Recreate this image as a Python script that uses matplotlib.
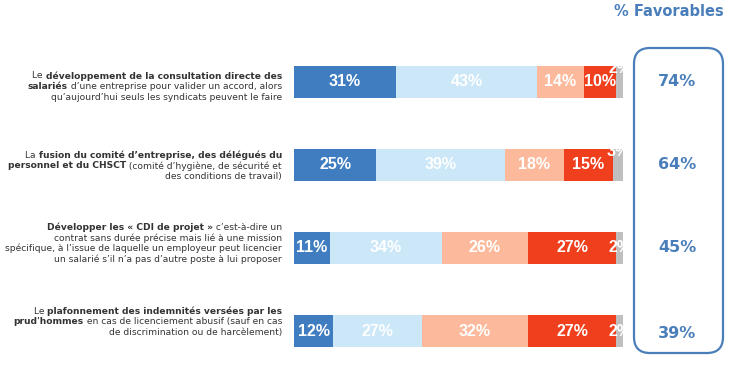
import matplotlib
matplotlib.use("Agg")
import matplotlib.pyplot as plt
from matplotlib.patches import FancyBboxPatch
from matplotlib.transforms import blended_transform_factory

W, H, DPI = 729, 366, 100

segments = ["Tout à fait favorable", "Plutôt favorable", "Plutôt opposé", "Tout à fait opposé", "Ne se prononce pas"]
row1 = [31, 43, 14, 10, 2]
row2 = [25, 39, 18, 15, 3]
row3 = [11, 34, 26, 27, 2]
row4 = [12, 27, 32, 27, 2]
rows = [row1, row2, row3, row4]
favorables = [74, 64, 45, 39]
colors = ["#3F7DC0", "#CBE7F8", "#FDB99B", "#F03F1D", "#BFBFBF"]

# question texts: list of lines, each line a list of (text, bold)
questions = [
    [[("Le ", False), ("développement de la consultation directe des", True)],
     [("salariés", True), (" d’une entreprise pour valider un accord, alors", False)],
     [("qu’aujourd’hui seuls les syndicats peuvent le faire", False)]],
    [[("La ", False), ("fusion du comité d’entreprise, des délégués du", True)],
     [("personnel et du CHSCT", True), (" (comité d’hygiène, de sécurité et", False)],
     [("des conditions de travail)", False)]],
    [[("Développer les « CDI de projet »", True), (" c’est-à-dire un", False)],
     [("contrat sans durée précise mais lié à une mission", False)],
     [("spécifique, à l’issue de laquelle un employeur peut licencier", False)],
     [("un salarié s’il n’a pas d’autre poste à lui proposer", False)]],
    [[("Le ", False), ("plafonnement des indemnités versées par les", True)],
     [("prud'hommes", True), (" en cas de licenciement abusif (sauf en cas", False)],
     [("de discrimination ou de harcèlement)", False)]],
]
text_first_line_px = [76, 155, 227, 311]

fig = plt.figure(figsize=(W / DPI, H / DPI), dpi=DPI)
fig.patch.set_facecolor("white")

ax_left, ax_right = 294, 623
y_top_px, y_bot_px = 40.5, 364.2
ax = fig.add_axes([ax_left / W, (H - y_bot_px) / H, (ax_right - ax_left) / W, (y_bot_px - y_top_px) / H])
ax.set_xlim(0, 100)
ax.set_ylim(3.4, -0.5)
ax.axis("off")

label_dy = [-0.16, -0.16, 0, 0]
for i, vals in enumerate(rows):
    left = 0
    for j, v in enumerate(vals):
        ax.barh(i, v, left=left, height=0.39, color=colors[j], edgecolor="none")
        dy = label_dy[i] if j == len(vals) - 1 else 0
        ax.text(left + v / 2, i + dy, f"{v}%", ha="center", va="center", color="white",
                fontsize=11.5, fontweight="bold", family="Liberation Sans", clip_on=False)
        left += v

# favorables box (in inches)
box = FancyBboxPatch((6.34, (H - 353) / DPI), 0.89, 3.05,
                     boxstyle="round,pad=0,rounding_size=0.16", transform=fig.dpi_scale_trans,
                     facecolor="none", edgecolor="#4A7EBB", linewidth=1.6)
fig.patches.append(box)
bt = blended_transform_factory(fig.transFigure, ax.transData)
fav_dy = [0, 0, 0, 0.03]
for i, f in enumerate(favorables):
    ax.text(677 / W, i + fav_dy[i], f"{f}%", transform=bt, ha="center", va="center",
            color="#4A7EBB", fontsize=11.5, fontweight="bold", family="DejaVu Sans")

fig.text(724 / W, 1 - 12 / H, "% Favorables", ha="right", va="center", color="#4A7EBB",
         fontsize=10.5, fontweight="bold", family="DejaVu Sans")

# question texts, right aligned, mixed weights
renderer = fig.canvas.get_renderer()
fs = 6.55
line_h = 10.8
x_right = 282
for qi, q in enumerate(questions):
    for li, line in enumerate(q):
        y = text_first_line_px[qi] + li * line_h
        x = x_right
        for txt, bold in reversed(line):
            t = fig.text(x / W, 1 - y / H, txt, ha="right", va="center", fontsize=fs,
                         fontweight="bold" if bold else "normal", color="#333333",
                         family="DejaVu Sans")
            wext = t.get_window_extent(renderer)
            x -= wext.width

fig.savefig("out.png", dpi=DPI, facecolor="white")
